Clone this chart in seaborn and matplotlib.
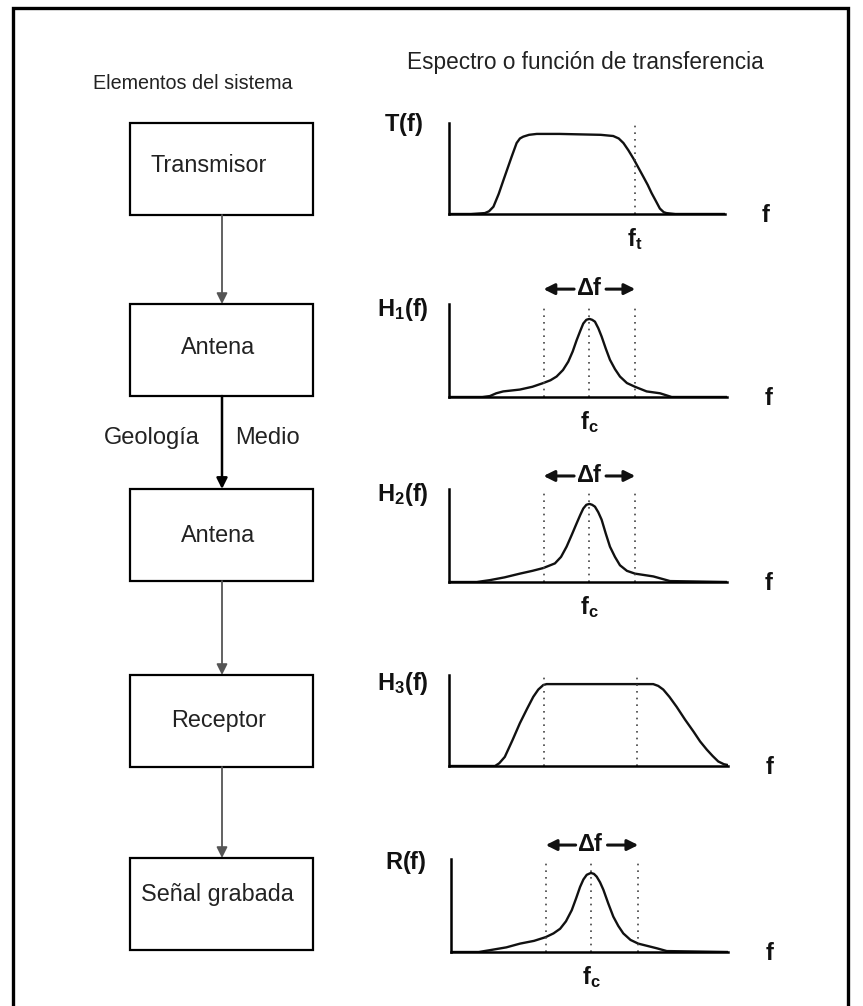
import matplotlib
matplotlib.use('Agg')
import matplotlib.pyplot as plt
from matplotlib import font_manager
from matplotlib.patches import Rectangle
import seaborn as sns

# ---- data (normalised panel units: x 0..1, y 0..1) ----
box_labels = ['Transmisor', 'Antena', 'Antena', 'Receptor', 'Señal grabada']
header_left = 'Elementos del sistema'
header_right = 'Espectro o función de transferencia'
side_left = 'Geología'
side_right = 'Medio'

panel_labels = [r'$\mathbf{T(f)}$', r'$\mathbf{H_1(f)}$', r'$\mathbf{H_2(f)}$',
                r'$\mathbf{H_3(f)}$', r'$\mathbf{R(f)}$']
marker_labels = [r'$\mathbf{f_t}$', r'$\mathbf{f_c}$', r'$\mathbf{f_c}$', None, r'$\mathbf{f_c}$']
delta_label = r'$\mathbf{\Delta f}$'

t_x = [0.0, 0.08, 0.13, 0.145, 0.161, 0.18, 0.197, 0.212, 0.227, 0.245, 0.257,
       0.269, 0.29, 0.318, 0.40, 0.475, 0.55, 0.595, 0.615, 0.632, 0.65, 0.668,
       0.686, 0.704, 0.72, 0.734, 0.75, 0.764, 0.778, 0.788, 0.82, 1.0]
t_y = [0.0, 0.0, 0.01, 0.03, 0.08, 0.22, 0.37, 0.50, 0.63, 0.78, 0.83,
       0.85, 0.87, 0.88, 0.88, 0.875, 0.87, 0.857, 0.83, 0.78, 0.70, 0.61,
       0.51, 0.41, 0.32, 0.23, 0.14, 0.06, 0.02, 0.01, 0.0, 0.0]

h1_x = [0.0, 0.12, 0.147, 0.17, 0.195, 0.255, 0.30, 0.339, 0.365, 0.387, 0.41,
        0.429, 0.445, 0.459, 0.472, 0.483, 0.494, 0.505, 0.515, 0.525, 0.537,
        0.549, 0.564, 0.579, 0.597, 0.615, 0.64, 0.669, 0.711, 0.759, 0.801, 1.0]
h1_y = [0.0, 0.0, 0.01, 0.04, 0.06, 0.08, 0.11, 0.15, 0.18, 0.22, 0.29,
        0.38, 0.49, 0.61, 0.71, 0.79, 0.83, 0.84, 0.83, 0.81, 0.74,
        0.65, 0.52, 0.40, 0.30, 0.22, 0.15, 0.11, 0.06, 0.04, 0.0, 0.0]

h2_x = [0.0, 0.10, 0.147, 0.20, 0.255, 0.30, 0.339, 0.381, 0.403, 0.423, 0.442,
        0.459, 0.472, 0.483, 0.494, 0.505, 0.515, 0.525, 0.537, 0.549, 0.564,
        0.579, 0.597, 0.615, 0.64, 0.669, 0.735, 0.795, 1.0]
h2_y = [0.0, 0.0, 0.02, 0.05, 0.09, 0.12, 0.15, 0.20, 0.27, 0.38, 0.51,
        0.63, 0.72, 0.79, 0.83, 0.84, 0.83, 0.81, 0.75, 0.67, 0.52,
        0.38, 0.27, 0.18, 0.12, 0.09, 0.06, 0.01, 0.0]

h3_x = [0.0, 0.15, 0.165, 0.18, 0.20, 0.227, 0.254, 0.28, 0.302, 0.32, 0.338,
        0.35, 0.732, 0.75, 0.768, 0.79, 0.816, 0.846, 0.876, 0.90, 0.924, 0.945,
        0.965, 0.985, 1.0]
h3_y = [0.0, 0.0, 0.0, 0.03, 0.10, 0.28, 0.47, 0.63, 0.76, 0.84, 0.89,
        0.90, 0.90, 0.88, 0.84, 0.76, 0.65, 0.51, 0.38, 0.27, 0.18, 0.11,
        0.05, 0.02, 0.01]

r_x = [0.0, 0.10, 0.141, 0.20, 0.249, 0.30, 0.342, 0.37, 0.394, 0.415, 0.436,
       0.452, 0.466, 0.478, 0.49, 0.505, 0.516, 0.526, 0.538, 0.55, 0.568,
       0.586, 0.604, 0.622, 0.648, 0.676, 0.743, 0.779, 1.0]
r_y = [0.0, 0.0, 0.02, 0.05, 0.09, 0.12, 0.16, 0.20, 0.25, 0.33, 0.45,
       0.58, 0.70, 0.78, 0.83, 0.85, 0.84, 0.81, 0.75, 0.67, 0.52,
       0.38, 0.28, 0.20, 0.13, 0.09, 0.04, 0.01, 0.0]

curves = [(t_x, t_y), (h1_x, h1_y), (h2_x, h2_y), (h3_x, h3_y), (r_x, r_y)]
dotted = [[0.674], [0.34, 0.505, 0.67], [0.34, 0.505, 0.67], [0.34, 0.675],
          [0.342, 0.505, 0.676]]
marker_pos = [0.674, 0.505, 0.505, None, 0.505]
has_delta = [False, True, True, False, True]

# ---- layout (pixels on an 863 x 1006 canvas) ----
W, H = 863, 1006
box_left, box_right, box_h = 130, 313, 92
box_tops = [123, 304, 489, 675, 858]
box_text_dx = [-13, -3, -3, -3, -4]
box_text_dy = [-4, -3, 0, 0, -9]
# panel rectangles: left, top, right, bottom
panels = [(449, 123, 725, 214), (449, 304, 727, 397), (449, 489, 727, 582),
          (449, 675, 728, 766), (451, 859, 728, 952)]
label_y = [0.98, 0.94, 0.94, 0.91, 0.96]
delta_y = [None, 1.16, 1.14, None, 1.15]

sns.set_theme(style='white')
names = {f.name for f in font_manager.fontManager.ttflist}
narrow = 'Liberation Sans Narrow' if 'Liberation Sans Narrow' in names else 'Liberation Sans'
plt.rcParams['font.family'] = [narrow, 'DejaVu Sans']
plt.rcParams['mathtext.fontset'] = 'custom'
plt.rcParams['mathtext.rm'] = narrow
plt.rcParams['mathtext.bf'] = narrow + ':bold'
plt.rcParams['mathtext.it'] = narrow + ':italic'

fig = plt.figure(figsize=(W / 100, H / 100), dpi=100)
fig.patch.set_facecolor('white')

ax0 = fig.add_axes([0, 0, 1, 1])
ax0.set_xlim(0, W)
ax0.set_ylim(H, 0)
ax0.axis('off')

# outer frame
ax0.plot([13, 13, 848, 848], [H, 8, 8, H], color='black', lw=2.4,
         solid_joinstyle='miter')

ax0.text(193, 83, header_left, fontsize=14.2, ha='center', va='center', color='#222')
ax0.text(585, 62, header_right, fontsize=16.3, ha='center', va='center', color='#222')

cx = (box_left + box_right) / 2
for i, lab in enumerate(box_labels):
    top = box_tops[i]
    ax0.add_patch(Rectangle((box_left, top), box_right - box_left, box_h,
                            fill=False, ec='black', lw=1.6))
    ax0.text(cx + box_text_dx[i], top + box_h / 2 + box_text_dy[i], lab,
             fontsize=16.8, ha='center', va='center', color='#222')

for i in range(len(box_labels) - 1):
    strong = i == 1
    ax0.annotate('', xy=(222, box_tops[i + 1]), xytext=(222, box_tops[i] + box_h),
                 arrowprops=dict(arrowstyle='-|>', color='black' if strong else '#555',
                                 lw=1.8 if strong else 1.3, mutation_scale=16,
                                 shrinkA=0, shrinkB=0))

ax0.text(152, 438, side_left, fontsize=17, ha='center', va='center', color='#222')
ax0.text(267, 438, side_right, fontsize=17, ha='center', va='center', color='#222')

for i, (xs, ys) in enumerate(curves):
    L, T, R, B = panels[i]
    ax = fig.add_axes([L / W, 1 - B / H, (R - L) / W, (B - T) / H])
    ax.set_facecolor('none')
    sns.lineplot(x=xs, y=ys, ax=ax, color='#111', lw=1.7, sort=False,
                 solid_joinstyle='round', solid_capstyle='round')
    for xv in dotted[i]:
        ax.plot([xv, xv], [0, 1], color='#444', lw=1.2, ls=(0, (1, 3)))
    ax.set_xlim(0, 1)
    ax.set_ylim(0, 1)
    ax.set_xticks([])
    ax.set_yticks([])
    sns.despine(ax=ax)
    for s in ('left', 'bottom'):
        ax.spines[s].set_color('black')
        ax.spines[s].set_linewidth(1.8)
    ax.text(-0.165, label_y[i], panel_labels[i], transform=ax.transAxes,
            fontsize=17, ha='center', va='center', color='#111')
    ax.text(1.15, -0.02, r'$\mathbf{f}$', transform=ax.transAxes,
            fontsize=17, ha='center', va='center', color='#111')
    if marker_labels[i] is not None:
        ax.text(marker_pos[i], -0.27, marker_labels[i], fontsize=17,
                ha='center', va='center', color='#111', clip_on=False)
    if has_delta[i]:
        yd = delta_y[i]
        ax.text(0.505, yd, delta_label, fontsize=17, ha='center', va='center',
                color='#111', clip_on=False)
        for x0, x1 in ((0.45, dotted[i][0]), (0.565, dotted[i][-1])):
            ax.annotate('', xy=(x1, yd), xytext=(x0, yd),
                        arrowprops=dict(arrowstyle='-|>', color='#111', lw=2.2,
                                        mutation_scale=16, shrinkA=0, shrinkB=0),
                        annotation_clip=False)

fig.savefig('out.png', dpi=100, facecolor='white')
